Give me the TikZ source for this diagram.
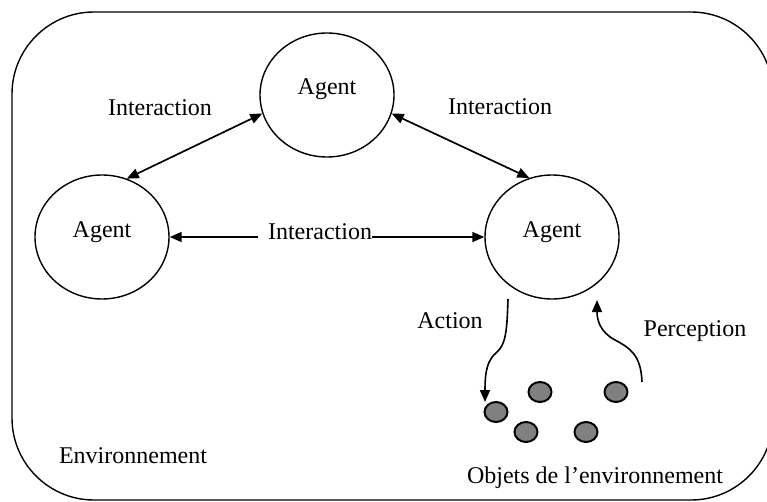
\documentclass[tikz,border=0pt]{standalone}
\usepackage{fontspec}
\setmainfont{Liberation Serif}
\usetikzlibrary{shapes.geometric,arrows.meta}
\begin{document}
\begin{tikzpicture}[x=1pt,y=-1pt,
  agent/.style={draw,ellipse,line width=1.4pt,minimum width=134pt,minimum height=124pt,inner sep=0pt},
  txt/.style={font=\fontsize{24}{28}\selectfont,inner sep=0pt},
  obj/.style={draw,ellipse,line width=2pt,fill=black!50,minimum width=23pt,minimum height=20pt,inner sep=0pt},
  link/.style={line width=1.7pt,{Triangle[length=12pt,width=10pt]}-{Triangle[length=12pt,width=10pt]}},
  flow/.style={line width=1.6pt,-{Triangle[length=12pt,width=10pt]}}]
\useasboundingbox (0,0) rectangle (767,502);
\begin{scope}
\clip (0,0) rectangle (767,502);
\draw[line width=1.4pt,rounded corners=82pt] (12,12) rectangle (773,500);
\end{scope}
% agents
\node[agent] (top) at (327,95) {};
\node[agent] (left) at (102,237) {};
\node[agent] (right) at (552,237) {};
\node[txt] (ttop) at (327,89) {Agent};
\node[txt] (tleft) at (102,232) {Agent};
\node[txt] (tright) at (552,232) {Agent};
% interactions
\draw[link] (left.0) -- (right.180);
\draw[link] (left.67) -- (top.196);
\draw[link] (top.344) -- (right.111);
\fill[white] (258,226) rectangle (270,244);
\node[txt,fill=white] (ih) at (320,232) {Interaction};
\node[txt] (il) at (160,108) {Interaction};
\node[txt] (ir) at (500,107) {Interaction};
% objects
\node[obj] (o1) at (540,392) {};
\node[obj] (o2) at (616,392) {};
\node[obj] (o3) at (496,412) {};
\node[obj] (o4) at (526,432) {};
\node[obj] (o5) at (586,432) {};
% action / perception
\coordinate (actS) at (508,299);
\coordinate (actE) at (485,402);
\coordinate (perS) at (642,382);
\coordinate (perE) at (597,300);
\draw[flow] (actS) .. controls (507,330) and (506,344) .. (497,352) .. controls (487,360) and (485,372) .. (actE);
\draw[flow] (perS) .. controls (641,355) and (630,348) .. (615,340) .. controls (600,332) and (597,320) .. (perE);
\node[txt] (act) at (450,321) {Action};
\node[txt] (per) at (695,331) {Perception};
\node[txt] (env) at (133,456) {Environnement};
\node[txt] (objs) at (595,478) {Objets de l’environnement};
\end{tikzpicture}
\end{document}
